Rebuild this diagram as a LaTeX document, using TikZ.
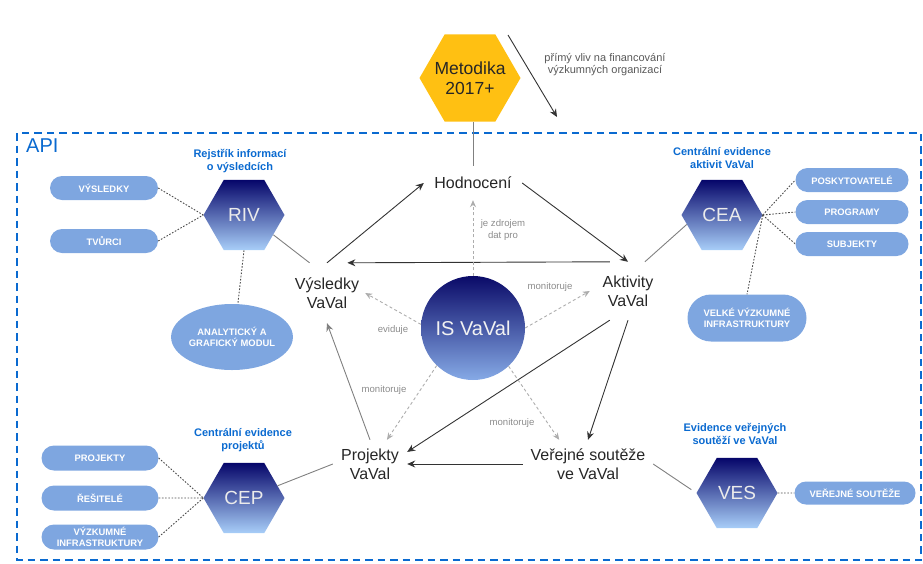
\documentclass[tikz,border=0pt]{standalone}
\usepackage{fontspec}
\setmainfont{Liberation Sans}
\usetikzlibrary{shapes.geometric,shapes.misc,arrows.meta,calc}
\definecolor{apiblue}{HTML}{0A6AD0}
\definecolor{pillblue}{HTML}{7EA6E0}
\definecolor{hextop}{HTML}{06066A}
\definecolor{hexbot}{HTML}{A8CEF8}
\definecolor{istop}{HTML}{0A0A68}
\definecolor{isbot}{HTML}{86AAE6}
\definecolor{metyellow}{HTML}{FFC012}
\newcommand\FMain{\fontsize{16}{19}\selectfont}
\newcommand\FLbl{\fontsize{9.6}{12}\selectfont}
\newcommand\FNote{\fontsize{11}{12}\selectfont}
\newcommand\FBlue{\fontsize{11}{13}\selectfont\bfseries}
\newcommand\FPill{\fontsize{9.4}{11}\selectfont\bfseries}
\newcommand\FHex{\fontsize{19}{22}\selectfont}
\newcommand\FMet{\fontsize{17.5}{20}\selectfont}
\newcommand\FIs{\fontsize{20}{24}\selectfont}
\newcommand\FApi{\fontsize{20}{24}\selectfont}
\begin{document}
\begin{tikzpicture}[x=1pt,y=-1pt,
  txt/.style={align=center,font=\FMain,inner sep=0pt,text=black!85},
  lbl/.style={align=center,font=\FLbl,inner sep=0pt,text=black!45},
  note/.style={align=center,font=\FNote,inner sep=0pt,text=black!65},
  bl/.style={align=center,font=\FBlue,inner sep=0pt,text=apiblue},
  pill/.style={rounded rectangle,fill=pillblue,text=white,font=\FPill,align=center,inner sep=0pt},
  hexa/.style={regular polygon,regular polygon sides=6,minimum size=81pt,inner sep=0pt,
    top color=hextop,bottom color=hexbot,text=white!92!black,font=\FHex},
  arr/.style={draw=black!80,line width=0.9pt,-{Stealth[length=8pt,width=7pt]}},
  arrgray/.style={draw=black!50,line width=0.9pt,-{Stealth[length=8pt,width=7pt]}},
  isarr/.style={draw=black!32,line width=0.9pt,dash pattern=on 3pt off 2.5pt,-{Stealth[length=7pt,width=6pt]}},
  graylink/.style={draw=black!50,line width=0.9pt},
  dotlink/.style={draw=black!70,line width=0.9pt,dash pattern=on 1.6pt off 1.6pt},
  apiborder/.style={draw=apiblue,line width=2.4pt,dash pattern=on 7.5pt off 5pt}
]
\useasboundingbox (0,0) rectangle (923,563);

% API frame
\draw[apiborder] (17,133) rectangle (921,560);
\node[font=\FApi,text=apiblue,anchor=west,inner sep=0pt] (api) at (26,146) {API};

% Metodika
\node[regular polygon,regular polygon sides=6,minimum size=101pt,inner sep=0pt,fill=metyellow] (met) at (470,78) {};
\node[font=\FMet,align=center,text=black!85,inner sep=0pt] (mettext) at (met.center) {Metodika\\2017+};
\coordinate (fa1) at (508,35);
\coordinate (fa2) at (557,117);
\draw[arr] (fa1) -- (fa2);
\node[note] (vliv) at (605,65) {přímý vliv na financování\\výzkumných organizací};

% central text nodes
\node[txt,minimum width=98pt,minimum height=34pt] (hod) at (473,183) {Hodnocení};
\node[txt,minimum width=76pt,minimum height=60pt] (vys) at (327,293) {Výsledky\\VaVal};
\node[txt,minimum width=76pt,minimum height=58pt] (akt) at (628,291) {Aktivity\\VaVal};
\node[txt,minimum width=74pt,minimum height=48pt] (proj) at (370,464) {Projekty\\VaVal};
\node[txt,minimum width=130pt,minimum height=48pt] (ver) at (588,464) {Veřejné soutěže\\ve VaVal};
\node[circle,minimum size=104pt,inner sep=0pt,top color=istop,bottom color=isbot,
  text=white!95!black,font=\FIs] (is) at (473,328) {IS VaVal};

% main arrows
\draw[graylink] (hod.north) -- (hod.north |- met.south);
\draw[arr] (vys.north) -- (hod.west);
\draw[arr] (hod.east) -- (akt.north);
\draw[arr] (akt.122) -- (vys.56);
\draw[arr] (akt.south) -- (ver.north);
\draw[arr] (akt.238) -- (proj.18);
\draw[arr] (ver.west) -- (proj.east);
\draw[arrgray] (proj.north) -- (vys.south);

% IS arrows
\draw[isarr] (is.north) -- (hod.south);
\draw[isarr] (is.176) -- (vys.east);
\draw[isarr] (is.east) -- (akt.west);
\draw[isarr] (is.226) -- (proj.55);
\draw[isarr] (is.313) -- (ver.140);
\node[lbl] (l1) at (503,230) {je zdrojem\\dat pro};
\node[lbl] (l2) at (393,330) {eviduje};
\node[lbl] (l3) at (550,287) {monitoruje};
\node[lbl] (l4) at (384,390) {monitoruje};
\node[lbl] (l5) at (512,423) {monitoruje};

% hexagons
\node[hexa] (riv) at (244,215) {RIV};
\node[hexa] (cea) at (722,215) {CEA};
\node[hexa] (cep) at (244,498) {CEP};
\node[hexa] (ves) at (737,493) {VES};
\node[bl] (briv) at (240,161.5) {Rejstřík informací\\o výsledcích};
\node[bl] (bcea) at (722,158) {Centrální evidence\\aktivit VaVal};
\node[bl] (bcep) at (243,440) {Centrální evidence\\projektů};
\node[bl] (bves) at (735,433.5) {Evidence veřejných\\soutěží ve VaVal};

% pills
\node[pill,minimum width=108pt,minimum height=24pt] (p1) at (104,188) {VÝSLEDKY};
\node[pill,minimum width=108pt,minimum height=24pt] (p2) at (104,241) {TVŮRCI};
\node[ellipse,fill=pillblue,text=white,font=\FPill,align=center,inner sep=0pt,
  minimum width=105pt,minimum height=66pt] (ana) at (232,337) {ANALYTICKÝ A\\GRAFICKÝ MODUL};
\node[pill,minimum width=113pt,minimum height=24pt] (posk) at (852,180) {POSKYTOVATELÉ};
\node[pill,minimum width=113pt,minimum height=24pt] (prog) at (852,212) {PROGRAMY};
\node[pill,minimum width=113pt,minimum height=24pt] (subj) at (852,244) {SUBJEKTY};
\node[pill,minimum width=119pt,minimum height=47pt] (vvi) at (747,318) {VELKÉ VÝZKUMNÉ\\INFRASTRUKTURY};
\node[pill,minimum width=117pt,minimum height=25pt] (pp) at (100,458) {PROJEKTY};
\node[pill,minimum width=117pt,minimum height=25pt] (res) at (100,498) {ŘEŠITELÉ};
\node[pill,minimum width=117pt,minimum height=25pt] (vi) at (100,537) {VÝZKUMNÉ\\INFRASTRUKTURY};
\node[pill,minimum width=121pt,minimum height=23pt] (vs) at (855,493) {VEŘEJNÉ SOUTĚŽE};

% dotted links
\draw[dotlink] (p1.east) -- (riv.west);
\draw[dotlink] (p2.east) -- (riv.west);
\draw[dotlink] (riv.south) -- (ana.80);
\draw[dotlink] (cea.east) -- (posk.west);
\draw[dotlink] (cea.east) -- (prog.west);
\draw[dotlink] (cea.east) -- (subj.west);
\draw[dotlink] (cea.east) -- (vvi.north);
\draw[dotlink] (pp.east) -- (cep.west);
\draw[dotlink] (res.east) -- (cep.west);
\draw[dotlink] (vi.east) -- (cep.west);
\draw[dotlink] (ves.east) -- (vs.west);

% gray links hex -> text
\draw[graylink] (riv.-34) -- (vys.120);
\draw[graylink] (cea.195) -- (akt.60);
\draw[graylink] (cep.20) -- (proj.west);
\draw[graylink,shorten <=6pt] (ves.west) -- (ver.east);
\end{tikzpicture}
\end{document}
